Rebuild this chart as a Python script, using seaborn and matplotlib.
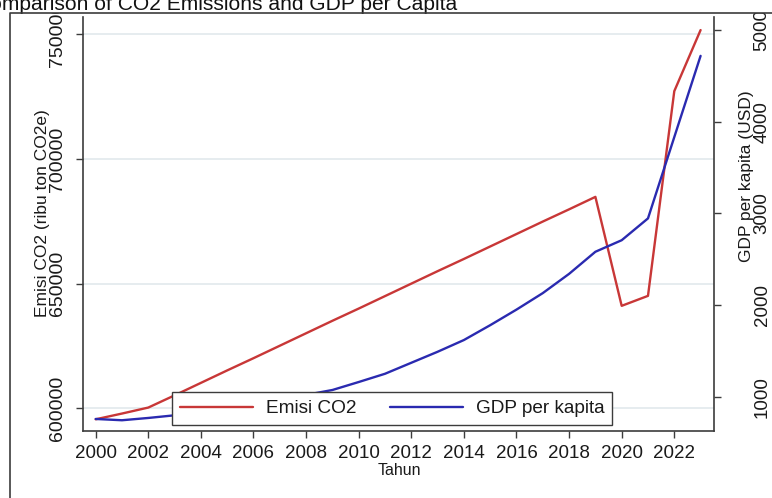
import matplotlib
matplotlib.use("Agg")
import matplotlib.pyplot as plt
import pandas as pd
import seaborn as sns
from matplotlib.lines import Line2D
from matplotlib.patches import Rectangle

# Annual series
years = list(range(2000, 2024))
emisi_co2 = [595600, 597900, 600300, 605200, 610200, 615200, 620100, 625100,
             630100, 635100, 640000, 645000, 650000, 655000, 659900, 664900,
             669900, 674900, 679800, 684800, 641100, 645100, 727200, 751700]
gdp_per_kapita = [757, 743, 768, 797, 830, 870, 915, 965,
                  1020, 1073, 1160, 1250, 1370, 1490, 1618, 1780,
                  1950, 2130, 2340, 2581, 2707, 2945, 3832, 4718]

x_ticks = list(range(2000, 2023, 2))
left_ticks = [600000, 650000, 700000, 750000]
right_ticks = [1000, 2000, 3000, 4000, 5000]

title = "Comparison of CO2 Emissions and GDP per Capita"
series_labels = ["Emisi CO2", "GDP per kapita"]

df = pd.DataFrame({"Tahun": years, "Emisi": emisi_co2, "GDP": gdp_per_kapita})

sns.set_style("white")
plt.rcParams["font.family"] = ["Liberation Sans", "DejaVu Sans"]

W, H = 772, 498
RED = "#C83737"
BLUE = "#2A2AB0"
AXC = "#3c3c3c"

fig = plt.figure(figsize=(W / 100, H / 100), dpi=100)
fig.patch.set_facecolor("white")

# plot area in pixel terms
left_px, right_px, top_px, bottom_px = 82.7, 714.0, 17.0, 430.7
ax = fig.add_axes([left_px / W, 1 - bottom_px / H,
                   (right_px - left_px) / W, (bottom_px - top_px) / H])
ax2 = ax.twinx()

sns.lineplot(data=df, x="Tahun", y="Emisi", ax=ax, color=RED, lw=1.7)
sns.lineplot(data=df, x="Tahun", y="GDP", ax=ax2, color=BLUE, lw=1.7)

ax.set_xlim(1999.506, 2023.51)
ax.set_ylim(591020, 756940)
ax2.set_ylim(629, 5142)

ax.set_xticks(x_ticks)
ax.set_xticklabels([str(t) for t in x_ticks])
ax.set_yticks(left_ticks)
ax.set_yticklabels([str(t) for t in left_ticks])
ax2.set_yticks(right_ticks)
ax2.set_yticklabels([str(t) for t in right_ticks])

ax.yaxis.grid(True, color="#e4ebee", lw=1.3)
ax.xaxis.grid(False)
ax.set_axisbelow(True)

for s in ["top", "right"]:
    ax.spines[s].set_visible(False)
for s in ["top", "left", "bottom"]:
    ax2.spines[s].set_visible(False)
for sp in [ax.spines["left"], ax.spines["bottom"], ax2.spines["right"]]:
    sp.set_color(AXC)
    sp.set_linewidth(1.2)

ax.tick_params(axis="x", length=5, width=1, color=AXC, labelsize=13.5,
               pad=5, labelcolor="#1a1a1a", bottom=True)
ax.tick_params(axis="y", length=5, width=1, color=AXC, labelsize=14,
               pad=7, labelrotation=90, labelcolor="#1a1a1a", left=True)
ax2.tick_params(axis="y", length=5, width=1, color=AXC, labelsize=13.5,
                pad=23.5, labelrotation=90, labelcolor="#1a1a1a", right=True)
for lab in ax.get_yticklabels() + ax2.get_yticklabels():
    lab.set_verticalalignment("center")

ax.set_xlabel("Tahun", fontsize=11.5, color="#1a1a1a")
ax.xaxis.set_label_coords(0.501, -0.079)
ax.set_ylabel("Emisi CO2 (ribu ton CO2e)", fontsize=12.5, color="#1a1a1a")
ax.yaxis.set_label_coords(-0.052, 0.527)
ax2.set_ylabel("GDP per kapita (USD)", fontsize=12.5, color="#1a1a1a")
ax2.yaxis.set_label_coords(1.039, 0.615)

handles = [Line2D([], [], color=RED, lw=1.7), Line2D([], [], color=BLUE, lw=1.7)]
leg = ax2.legend(handles, series_labels, ncol=2, loc="lower left",
                 bbox_to_anchor=(172 / W, 1 - 425 / H),
                 bbox_transform=fig.transFigure, borderaxespad=0,
                 frameon=True, fancybox=False, framealpha=1,
                 edgecolor=AXC, facecolor="white", fontsize=13.7,
                 handlelength=3.84, handletextpad=0.68, columnspacing=1.79,
                 borderpad=0.4)
leg.get_frame().set_linewidth(1.0)
for t in leg.get_texts():
    t.set_color("#1a1a1a")

# outer frame of the graph region with the heading above it
frame_y = 13.0
frame_x = 10.0
fig.add_artist(Rectangle((0, 1 - frame_y / H), 1, frame_y / H,
                         transform=fig.transFigure, facecolor="white",
                         edgecolor="none", zorder=5))
fig.text(-25 / W, 1 - 9.5 / H, title, fontsize=15.1, color="#111111",
         ha="left", va="baseline", zorder=6)
fig.add_artist(Line2D([frame_x / W, frame_x / W, 1], [0, 1 - frame_y / H, 1 - frame_y / H],
                      transform=fig.transFigure, color=AXC, lw=1.2, zorder=7))

fig.savefig("out.png", dpi=100)
